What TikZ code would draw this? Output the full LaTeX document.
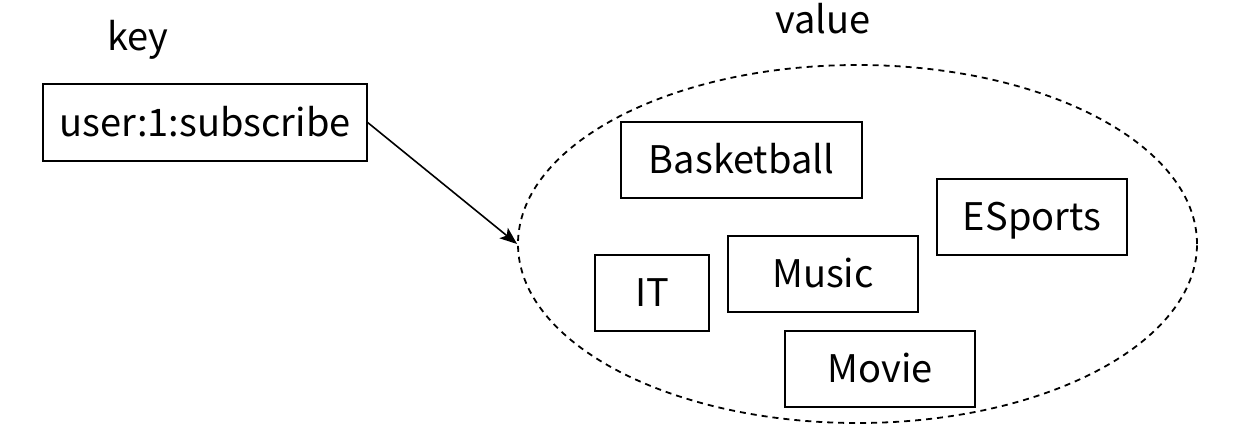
\documentclass[tikz,border=0pt]{standalone}
\usepackage{fontspec}
\setmainfont{Noto Sans CJK SC}
\usetikzlibrary{shapes.geometric,arrows.meta}
\begin{document}
\begin{tikzpicture}[x=0.75pt,y=-0.75pt,
  lbl/.style={font=\fontsize{28.5pt}{34pt}\selectfont, text height=20.9pt, text depth=0pt, inner sep=0pt},
  item/.style={lbl, draw, line width=1pt, minimum height=57pt},
  link/.style={line width=1.2pt, -{Stealth[length=13pt,width=10pt,inset=3pt]}},
  setshape/.style={ellipse, draw, dash pattern=on 4.5pt off 3.75pt, line width=1.35pt, inner sep=0pt, minimum width=509.25pt, minimum height=268.5pt}]
\useasboundingbox (0,0) rectangle (1245,433);
\node[lbl] (keylbl) at (138,37) {key};
\node[lbl] (vallbl) at (823,20) {value};
\node[item, minimum width=243pt, minimum height=57.75pt] (key) at (205,122.5) {user:1:subscribe};
\node[setshape] (set) at (857.5,244) {};
\node[item, minimum width=180.75pt] (bb) at (741.5,160) {Basketball};
\node[item, minimum width=142.5pt] (es) at (1032,217) {ESports};
\node[item, minimum width=85.5pt] (it) at (652,293) {IT};
\node[item, minimum width=142.5pt] (mu) at (823,274) {Music};
\node[item, minimum width=142.5pt] (mo) at (880,369) {Movie};
\draw[link] (key.east) -- (set.west);
\end{tikzpicture}
\end{document}
